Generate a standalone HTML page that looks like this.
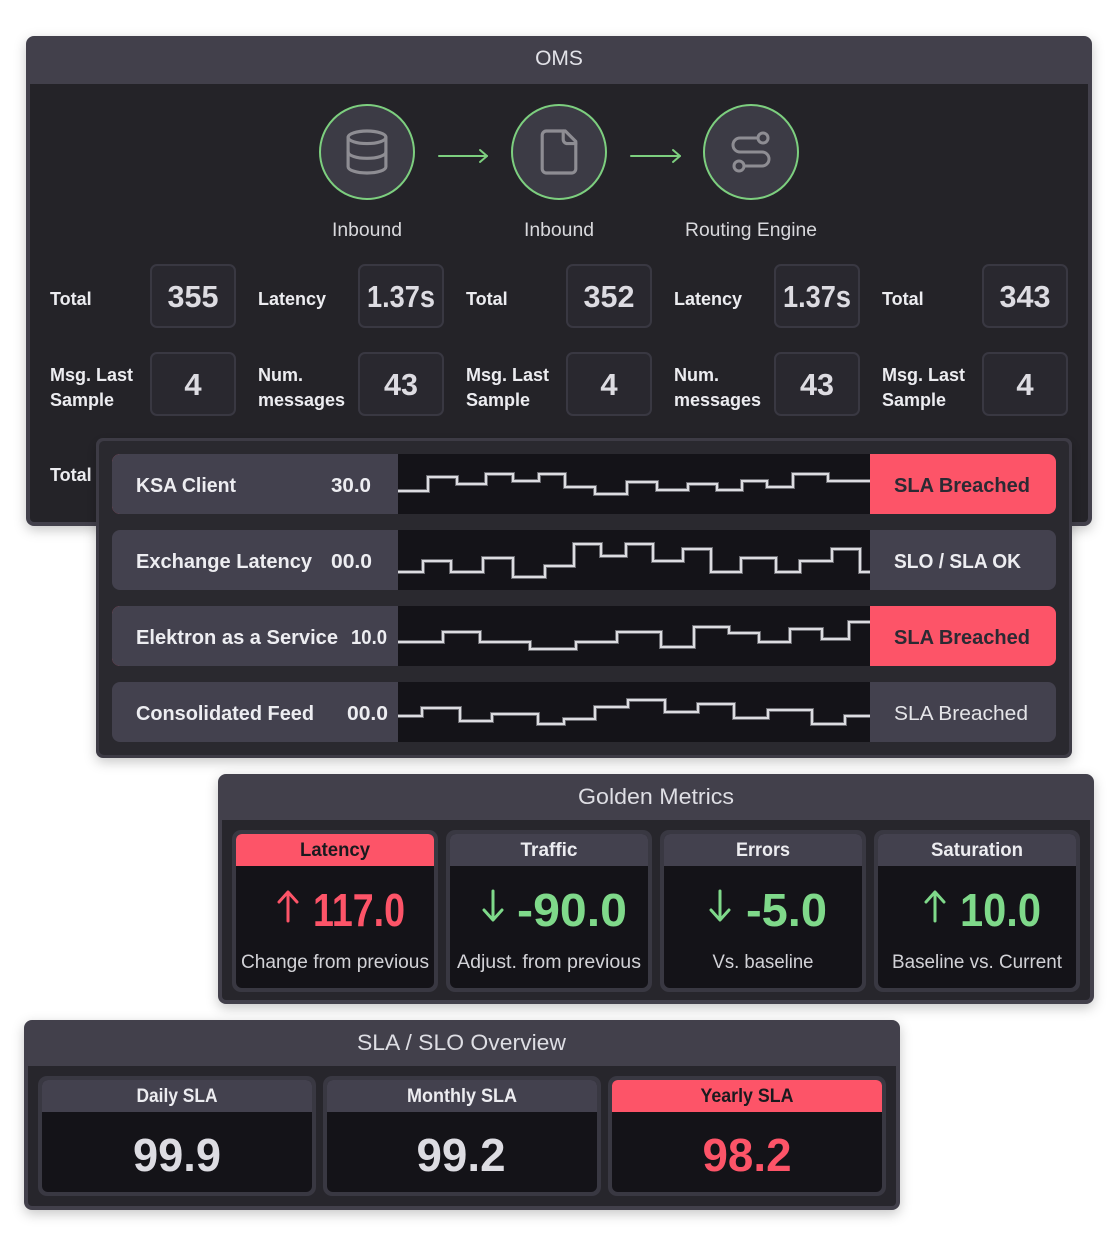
<!DOCTYPE html>
<html><head><meta charset="utf-8"><style>
html,body{margin:0;padding:0;background:#fff;}
svg{display:block;}
text{font-family:"Liberation Sans",sans-serif;}
</style></head><body>
<svg width="1116" height="1256" viewBox="0 0 1116 1256" xmlns="http://www.w3.org/2000/svg">
<defs>
<filter id="sh" x="-5%" y="-5%" width="110%" height="115%"><feDropShadow dx="0" dy="4" stdDeviation="6" flood-color="#000" flood-opacity="0.22"/></filter>
</defs>

<!-- OMS panel -->
<rect x="26" y="36" width="1066" height="490" rx="8" fill="#42414c" filter="url(#sh)"/>
<rect x="30" y="84" width="1058" height="438" rx="4" fill="#242328"/>
<rect x="30" y="84" width="1058" height="10" fill="#242328"/>
<text x="559" y="65" font-size="21" text-anchor="middle" fill="#e2e2e8">OMS</text>

<!-- circles -->
<g fill="#3c3b45" stroke="#7dcf7f" stroke-width="2">
<circle cx="367" cy="152" r="47"/>
<circle cx="559" cy="152" r="47"/>
<circle cx="751" cy="152" r="47"/>
</g>
<!-- database icon -->
<g transform="translate(367,152) scale(2.1) translate(-12,-12)" fill="none" stroke="#8e8d93" stroke-width="1.5" stroke-linecap="round" stroke-linejoin="round">
<ellipse cx="12" cy="5" rx="9" ry="3"/>
<path d="M3 5V19A9 3 0 0 0 21 19V5"/>
<path d="M3 12A9 3 0 0 0 21 12"/>
</g>
<!-- file icon -->
<g transform="translate(559,152) scale(2.1) translate(-12,-12)" fill="none" stroke="#8e8d93" stroke-width="1.5" stroke-linecap="round" stroke-linejoin="round">
<path d="M15 2H6a2 2 0 0 0-2 2v16a2 2 0 0 0 2 2h12a2 2 0 0 0 2-2V7Z"/>
<path d="M14 2v4a2 2 0 0 0 2 2h4"/>
</g>
<!-- route icon -->
<g transform="translate(751,152) scale(2) translate(-12,-12)" fill="none" stroke="#8e8d93" stroke-width="1.5" stroke-linecap="round" stroke-linejoin="round">
<circle cx="6" cy="19" r="2.5"/>
<path d="M9 19h8.5a3.5 3.5 0 0 0 0-7h-11a3.5 3.5 0 0 1 0-7H15"/>
<circle cx="18" cy="5" r="2.5"/>
</g>
<!-- arrows -->
<g stroke="#7dcf7f" stroke-width="2" fill="none" stroke-linecap="round" stroke-linejoin="round">
<line x1="439" y1="156" x2="487" y2="156"/><polyline points="480,150 487,156 480,162"/>
<line x1="631" y1="156" x2="680" y2="156"/><polyline points="673,150 680,156 673,162"/>
</g>
<g font-size="19" fill="#d8d8dc" text-anchor="middle">
<text x="367" y="236" textLength="70" lengthAdjust="spacingAndGlyphs">Inbound</text>
<text x="559" y="236" textLength="70" lengthAdjust="spacingAndGlyphs">Inbound</text>
<text x="751" y="236" textLength="132" lengthAdjust="spacingAndGlyphs">Routing Engine</text>
</g>

<!-- stat boxes -->
<g fill="#29282f" stroke="#393842" stroke-width="2">
<rect x="151" y="265" width="84" height="62" rx="6"/><rect x="359" y="265" width="84" height="62" rx="6"/><rect x="567" y="265" width="84" height="62" rx="6"/><rect x="775" y="265" width="84" height="62" rx="6"/><rect x="983" y="265" width="84" height="62" rx="6"/>
<rect x="151" y="353" width="84" height="62" rx="6"/><rect x="359" y="353" width="84" height="62" rx="6"/><rect x="567" y="353" width="84" height="62" rx="6"/><rect x="775" y="353" width="84" height="62" rx="6"/><rect x="983" y="353" width="84" height="62" rx="6"/>
</g>
<g font-size="18" font-weight="bold" fill="#ececf0">
<text x="50" y="305">Total</text>
<text x="258" y="305">Latency</text>
<text x="466" y="305">Total</text>
<text x="674" y="305">Latency</text>
<text x="882" y="305">Total</text>
<text x="50" y="381">Msg. Last</text><text x="50" y="406">Sample</text>
<text x="258" y="381">Num.</text><text x="258" y="406">messages</text>
<text x="466" y="381">Msg. Last</text><text x="466" y="406">Sample</text>
<text x="674" y="381">Num.</text><text x="674" y="406">messages</text>
<text x="882" y="381">Msg. Last</text><text x="882" y="406">Sample</text>
<text x="50" y="481">Total</text>
</g>
<g font-size="31" font-weight="bold" fill="#dddce2" text-anchor="middle">
<text x="193" y="307" textLength="51" lengthAdjust="spacingAndGlyphs">355</text>
<text x="401" y="307" textLength="68" lengthAdjust="spacingAndGlyphs">1.37s</text>
<text x="609" y="307" textLength="51" lengthAdjust="spacingAndGlyphs">352</text>
<text x="817" y="307" textLength="68" lengthAdjust="spacingAndGlyphs">1.37s</text>
<text x="1025" y="307" textLength="51" lengthAdjust="spacingAndGlyphs">343</text>
<text x="193" y="395">4</text>
<text x="401" y="395" textLength="34" lengthAdjust="spacingAndGlyphs">43</text>
<text x="609" y="395">4</text>
<text x="817" y="395" textLength="34" lengthAdjust="spacingAndGlyphs">43</text>
<text x="1025" y="395">4</text>
</g>

<!-- overlay panel -->
<rect x="96" y="438" width="976" height="320" rx="7" fill="#3c3b44" filter="url(#sh)"/>
<rect x="99" y="441" width="970" height="314" rx="5" fill="#2a292f"/>

<!-- rows -->
<g>
<rect x="112" y="454" width="944" height="60" rx="8" fill="#fd5468"/>
<rect x="112" y="454" width="300" height="60" rx="8" fill="#43414e"/>
<rect x="398" y="454" width="472" height="60" fill="#141318"/>

<rect x="112" y="530" width="944" height="60" rx="8" fill="#43414e"/>
<rect x="398" y="530" width="472" height="60" fill="#141318"/>

<rect x="112" y="606" width="944" height="60" rx="8" fill="#fd5468"/>
<rect x="112" y="606" width="300" height="60" rx="8" fill="#43414e"/>
<rect x="398" y="606" width="472" height="60" fill="#141318"/>

<rect x="112" y="682" width="944" height="60" rx="8" fill="#43414e"/>
<rect x="398" y="682" width="472" height="60" fill="#141318"/>
</g>
<g fill="none" stroke-linejoin="miter">
<g stroke="#6a6a70" stroke-width="4">
<path d="M398,491 H428 V477 H457 V484 H486 V474 H513 V481 H539 V474 H565 V487 H595 V494 H627 V482 H657 V490 H688 V484 H717 V490 H742 V481 H767 V487 H793 V474 H828 V481 H870"/>
<path d="M398,572 H423 V561 H451 V572 H483 V558 H513 V577 H545 V566 H574 V544 H601 V556 H626 V544 H653 V561 H683 V549 H711 V572 H741 V558 H776 V572 H800 V561 H832 V549 H860 V572 H870"/>
<path d="M398,642 H443 V632 H480 V642 H530 V649 H576 V642 H617 V632 H661 V647 H694 V627 H729 V633 H759 V642 H790 V629 H822 V639 H849 V622 H870"/>
<path d="M398,716 H422 V708 H460 V721 H492 V714 H538 V724 H564 V719 H595 V707 H628 V700 H665 V712 H698 V704 H734 V718 H768 V710 H812 V724 H845 V716 H870"/>
</g>
<g stroke="#dcdce0" stroke-width="2">
<path d="M398,491 H428 V477 H457 V484 H486 V474 H513 V481 H539 V474 H565 V487 H595 V494 H627 V482 H657 V490 H688 V484 H717 V490 H742 V481 H767 V487 H793 V474 H828 V481 H870"/>
<path d="M398,572 H423 V561 H451 V572 H483 V558 H513 V577 H545 V566 H574 V544 H601 V556 H626 V544 H653 V561 H683 V549 H711 V572 H741 V558 H776 V572 H800 V561 H832 V549 H860 V572 H870"/>
<path d="M398,642 H443 V632 H480 V642 H530 V649 H576 V642 H617 V632 H661 V647 H694 V627 H729 V633 H759 V642 H790 V629 H822 V639 H849 V622 H870"/>
<path d="M398,716 H422 V708 H460 V721 H492 V714 H538 V724 H564 V719 H595 V707 H628 V700 H665 V712 H698 V704 H734 V718 H768 V710 H812 V724 H845 V716 H870"/>
</g>
</g>
<g font-size="20" font-weight="bold" fill="#ededf1">
<text x="136" y="492" textLength="100" lengthAdjust="spacingAndGlyphs">KSA Client</text>
<text x="331" y="492" textLength="40" lengthAdjust="spacingAndGlyphs">30.0</text>
<text x="136" y="568" textLength="176" lengthAdjust="spacingAndGlyphs">Exchange Latency</text>
<text x="331" y="568" textLength="41" lengthAdjust="spacingAndGlyphs">00.0</text>
<text x="136" y="644" textLength="202" lengthAdjust="spacingAndGlyphs">Elektron as a Service</text>
<text x="351" y="644" textLength="36" lengthAdjust="spacingAndGlyphs">10.0</text>
<text x="136" y="720" textLength="178" lengthAdjust="spacingAndGlyphs">Consolidated Feed</text>
<text x="347" y="720" textLength="41" lengthAdjust="spacingAndGlyphs">00.0</text>
<text x="894" y="492" textLength="136" lengthAdjust="spacingAndGlyphs" fill="#2b2a33">SLA Breached</text>
<text x="894" y="568" textLength="127" lengthAdjust="spacingAndGlyphs">SLO / SLA OK</text>
<text x="894" y="644" textLength="136" lengthAdjust="spacingAndGlyphs" fill="#2b2a33">SLA Breached</text>
</g>
<text x="894" y="720" font-size="20" fill="#e4e4e8" textLength="134" lengthAdjust="spacingAndGlyphs">SLA Breached</text>

<!-- Golden Metrics -->
<rect x="218" y="774" width="876" height="230" rx="8" fill="#42414c" filter="url(#sh)"/>
<rect x="222" y="820" width="868" height="180" rx="4" fill="#27262c"/>
<rect x="222" y="820" width="868" height="10" fill="#27262c"/>
<text x="656" y="804" font-size="22" text-anchor="middle" fill="#dedee4" textLength="156" lengthAdjust="spacingAndGlyphs">Golden Metrics</text>

<g>
<rect x="232" y="830" width="206" height="162" rx="9" fill="#393842"/>
<rect x="236" y="834" width="198" height="154" rx="6" fill="#141318"/>
<path d="M236,866 V840 a6,6 0 0 1 6,-6 H428 a6,6 0 0 1 6,6 V866 Z" fill="#fd5468"/>
<rect x="446" y="830" width="206" height="162" rx="9" fill="#393842"/>
<rect x="450" y="834" width="198" height="154" rx="6" fill="#141318"/>
<path d="M450,866 V840 a6,6 0 0 1 6,-6 H642 a6,6 0 0 1 6,6 V866 Z" fill="#43414e"/>
<rect x="660" y="830" width="206" height="162" rx="9" fill="#393842"/>
<rect x="664" y="834" width="198" height="154" rx="6" fill="#141318"/>
<path d="M664,866 V840 a6,6 0 0 1 6,-6 H856 a6,6 0 0 1 6,6 V866 Z" fill="#43414e"/>
<rect x="874" y="830" width="206" height="162" rx="9" fill="#393842"/>
<rect x="878" y="834" width="198" height="154" rx="6" fill="#141318"/>
<path d="M878,866 V840 a6,6 0 0 1 6,-6 H1070 a6,6 0 0 1 6,6 V866 Z" fill="#43414e"/>
</g>
<g font-size="19" font-weight="bold" text-anchor="middle">
<text x="335" y="856" fill="#1a1a1e" textLength="70" lengthAdjust="spacingAndGlyphs">Latency</text>
<text x="549" y="856" fill="#ececf0" textLength="57" lengthAdjust="spacingAndGlyphs">Traffic</text>
<text x="763" y="856" fill="#ececf0" textLength="54" lengthAdjust="spacingAndGlyphs">Errors</text>
<text x="977" y="856" fill="#ececf0" textLength="92" lengthAdjust="spacingAndGlyphs">Saturation</text>
</g>
<g fill="none" stroke-width="3" stroke-linecap="round" stroke-linejoin="round">
<g stroke="#fd5468"><line x1="288" y1="921" x2="288" y2="893"/><polyline points="279,902 288,892 297,902"/></g>
<g stroke="#7fd98a"><line x1="493" y1="891" x2="493" y2="919"/><polyline points="484,910 493,920 502,910"/></g>
<g stroke="#7fd98a"><line x1="720" y1="891" x2="720" y2="919"/><polyline points="711,910 720,920 729,910"/></g>
<g stroke="#7fd98a"><line x1="935" y1="921" x2="935" y2="893"/><polyline points="926,902 935,892 944,902"/></g>
</g>
<g font-size="46" font-weight="bold">
<text x="313" y="926" fill="#fd5468" textLength="92" lengthAdjust="spacingAndGlyphs">117.0</text>
<text x="517" y="926" fill="#7fd98a" textLength="110" lengthAdjust="spacingAndGlyphs">-90.0</text>
<text x="746" y="926" fill="#7fd98a" textLength="81" lengthAdjust="spacingAndGlyphs">-5.0</text>
<text x="960" y="926" fill="#7fd98a" textLength="81" lengthAdjust="spacingAndGlyphs">10.0</text>
</g>
<g font-size="19" fill="#d2d2d7" text-anchor="middle">
<text x="335" y="968" textLength="188" lengthAdjust="spacingAndGlyphs">Change from previous</text>
<text x="549" y="968" textLength="184" lengthAdjust="spacingAndGlyphs">Adjust. from previous</text>
<text x="763" y="968" textLength="101" lengthAdjust="spacingAndGlyphs">Vs. baseline</text>
<text x="977" y="968" textLength="170" lengthAdjust="spacingAndGlyphs">Baseline vs. Current</text>
</g>

<!-- SLA / SLO Overview -->
<rect x="24" y="1020" width="876" height="190" rx="8" fill="#42414c" filter="url(#sh)"/>
<rect x="28" y="1066" width="868" height="140" rx="4" fill="#27262c"/>
<rect x="28" y="1066" width="868" height="10" fill="#27262c"/>
<text x="461.5" y="1050" font-size="22" text-anchor="middle" fill="#dedee4" textLength="209" lengthAdjust="spacingAndGlyphs">SLA / SLO Overview</text>

<g>
<rect x="38" y="1076" width="278" height="120" rx="9" fill="#393842"/>
<rect x="42" y="1080" width="270" height="112" rx="6" fill="#141318"/>
<path d="M42,1112 V1086 a6,6 0 0 1 6,-6 H306 a6,6 0 0 1 6,6 V1112 Z" fill="#43414e"/>
<rect x="323" y="1076" width="278" height="120" rx="9" fill="#393842"/>
<rect x="327" y="1080" width="270" height="112" rx="6" fill="#141318"/>
<path d="M327,1112 V1086 a6,6 0 0 1 6,-6 H591 a6,6 0 0 1 6,6 V1112 Z" fill="#43414e"/>
<rect x="608" y="1076" width="278" height="120" rx="9" fill="#393842"/>
<rect x="612" y="1080" width="270" height="112" rx="6" fill="#141318"/>
<path d="M612,1112 V1086 a6,6 0 0 1 6,-6 H876 a6,6 0 0 1 6,6 V1112 Z" fill="#fd5468"/>
</g>
<g font-size="19" font-weight="bold" text-anchor="middle">
<text x="177" y="1102" fill="#ececf0" textLength="81" lengthAdjust="spacingAndGlyphs">Daily SLA</text>
<text x="462" y="1102" fill="#ececf0" textLength="110" lengthAdjust="spacingAndGlyphs">Monthly SLA</text>
<text x="747" y="1102" fill="#1a1a1e" textLength="93" lengthAdjust="spacingAndGlyphs">Yearly SLA</text>
</g>
<g font-size="46" font-weight="bold" text-anchor="middle">
<text x="177" y="1171" fill="#dddce2" textLength="88" lengthAdjust="spacingAndGlyphs">99.9</text>
<text x="461" y="1171" fill="#dddce2" textLength="89" lengthAdjust="spacingAndGlyphs">99.2</text>
<text x="747" y="1171" fill="#fd5468" textLength="89" lengthAdjust="spacingAndGlyphs">98.2</text>
</g>
</svg>
</body></html>
